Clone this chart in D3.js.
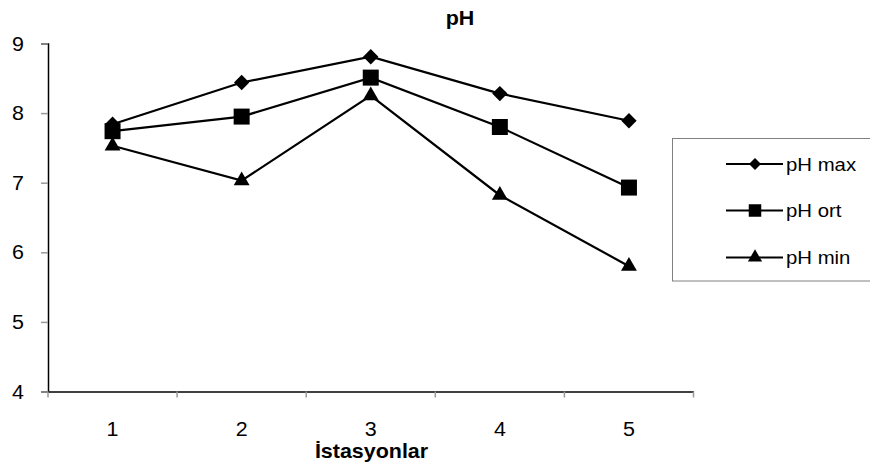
<!DOCTYPE html>
<html>
<head>
<meta charset="utf-8">
<script src="https://cdn.jsdelivr.net/npm/d3@7"></script>
<style>
  html, body { margin: 0; padding: 0; background: #fff; }
  text { font-family: "Liberation Sans", Arial, sans-serif; fill: #000; }
</style>
</head>
<body>
<svg id="chart" width="870" height="469"></svg>
<script>
// Stations along the x axis and pH readings per station
const stations = ["1", "2", "3", "4", "5"];
const phMax = [7.84, 8.44, 8.81, 8.28, 7.89];
const phOrt = [7.74, 7.95, 8.51, 7.80, 6.93];
const phMin = [7.53, 7.03, 8.25, 6.82, 5.80];
const yTicks = [4, 5, 6, 7, 8, 9];
const seriesNames = ["pH max", "pH ort", "pH min"];
const seriesShapes = [d3.symbolDiamond2, d3.symbolSquare2, d3.symbolTriangle2];

const series = [
  { name: seriesNames[0], values: phMax, shape: seriesShapes[0] },
  { name: seriesNames[1], values: phOrt, shape: seriesShapes[1] },
  { name: seriesNames[2], values: phMin, shape: seriesShapes[2] }
];

const svg = d3.select("#chart");
const plot = { left: 48, right: 693.5, top: 43.5, bottom: 391.5 };
const stretch = 1.1; // wide-set lettering

const x = d3.scaleBand().domain(stations).range([plot.left, plot.right]);
const y = d3.scaleLinear().domain([4, 9]).range([plot.bottom, plot.top]);

function label(g, tx, ty, str, size, weight, anchor) {
  return g.append("text")
    .attr("transform", `translate(${tx},${ty}) scale(${stretch},1)`)
    .attr("text-anchor", anchor || "middle")
    .style("font-size", size + "px")
    .style("font-weight", weight || "normal")
    .text(str);
}

// Title
label(svg, 460, 25, "pH", 19.5, "bold");

// Y axis
const yAxis = svg.append("g").attr("transform", `translate(${plot.left},0)`)
  .call(d3.axisLeft(y).tickValues(yTicks).tickSize(7).tickFormat(""));
yAxis.select(".domain").attr("stroke", "#000").attr("stroke-width", 1.5);
yAxis.selectAll(".tick line").attr("stroke", "#999").attr("stroke-width", 1.5);
yTicks.forEach(t => label(svg, 24, y(t) + 7, String(t), 19.5, "normal", "end"));

// X axis with ticks on category boundaries
const xAxis = svg.append("g").attr("transform", `translate(0,${plot.bottom})`)
  .call(d3.axisBottom(x).tickSize(0).tickFormat(""));
xAxis.select(".domain").attr("stroke", "#000").attr("stroke-width", 1.5);
const bounds = stations.map(s => x(s)).concat([x.range()[1]]);
xAxis.selectAll("line.bound").data(bounds).enter().append("line")
  .attr("class", "bound")
  .attr("x1", d => d).attr("x2", d => d)
  .attr("y1", 0).attr("y2", 6)
  .attr("stroke", "#999").attr("stroke-width", 1.5);
stations.forEach(s => label(svg, x(s) + x.bandwidth() / 2, 436, s, 19.5));

// X axis title
label(svg, 371.5, 458, "İstasyonlar", 19.5, "bold");

// Series lines and markers
const cx = (d, i) => x(stations[i]) + x.bandwidth() / 2;
const line = d3.line().x(cx).y(d => y(d));
const markerSizes = [150, 326, 180];

series.forEach((s, k) => {
  const g = svg.append("g");
  g.append("path").datum(s.values)
    .attr("d", line)
    .attr("fill", "none")
    .attr("stroke", "#000")
    .attr("stroke-width", 2.2);
  g.selectAll("path.pt").data(s.values).enter().append("path")
    .attr("class", "pt")
    .attr("transform", (d, i) => `translate(${cx(d, i)},${y(d)})`)
    .attr("d", d3.symbol().type(s.shape).size(markerSizes[k]))
    .attr("fill", "#000");
});

// Legend
const legend = svg.append("g");
legend.append("rect")
  .attr("x", 672.5).attr("y", 138.5)
  .attr("width", 200).attr("height", 142.5)
  .attr("fill", "#fff").attr("stroke", "#808080").attr("stroke-width", 1);
const legendRows = [164, 210.5, 257.5];
const legendSizes = [92, 199, 145];
series.forEach((s, k) => {
  const ly = legendRows[k];
  legend.append("line")
    .attr("x1", 726).attr("x2", 783)
    .attr("y1", ly).attr("y2", ly)
    .attr("stroke", "#000").attr("stroke-width", 2);
  legend.append("path")
    .attr("transform", `translate(755,${ly})`)
    .attr("d", d3.symbol().type(s.shape).size(legendSizes[k]))
    .attr("fill", "#000");
  label(legend, 786, ly + 6.5, s.name, 18.5, "normal", "start");
});
</script>
</body>
</html>
